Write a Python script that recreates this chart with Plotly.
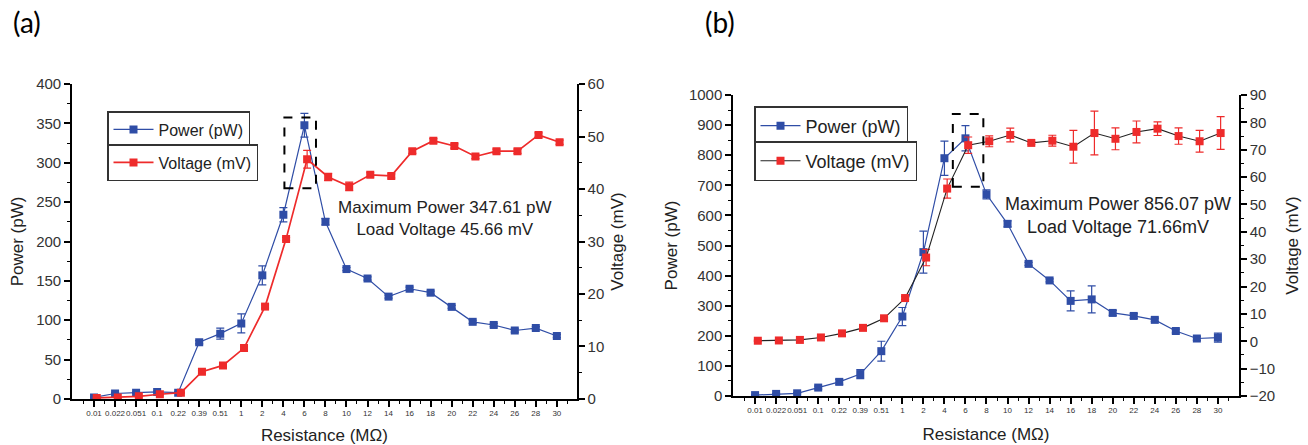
import plotly.graph_objects as go

# ---------------- data ----------------
resistance = ["0.01", "0.022", "0.051", "0.1", "0.22", "0.39", "0.51", "1", "2", "4", "6", "8",
              "10", "12", "14", "16", "18", "20", "22", "24", "26", "28", "30"]

power_a = [2, 7, 8, 9, 8, 72, 83, 96, 157, 234, 347.61, 225,
           165, 153, 130, 140, 135, 117, 98, 94, 87, 90, 80]
power_a_err = [1, 1, 1, 1, 1, 2, 7, 12, 12, 9, 15, 4,
               2, 2, 2, 2, 2, 2, 2, 2, 2, 2, 2]
voltage_a = [0.2, 0.3, 0.5, 0.9, 1.2, 5.2, 6.4, 9.7, 17.6, 30.5, 45.66, 42.3,
             40.5, 42.7, 42.5, 47.2, 49.2, 48.2, 46.2, 47.2, 47.2, 50.3, 48.9]
voltage_a_err = [0.1, 0.1, 0.1, 0.1, 0.1, 0.3, 0.3, 0.3, 0.3, 0.3, 1.7, 0.7,
                 0.8, 0.4, 0.4, 0.4, 0.4, 0.4, 0.4, 0.4, 0.4, 0.4, 0.4]

power_b = [3, 7, 9, 28, 47, 73, 149, 264, 478, 790, 856.07, 670,
           572, 439, 384, 316, 321, 276, 266, 253, 216, 191, 194]
power_b_err = [2, 2, 2, 5, 8, 15, 33, 30, 70, 57, 42, 15,
               10, 5, 5, 33, 45, 8, 8, 6, 6, 6, 15]
voltage_b = [0.2, 0.3, 0.5, 1.4, 2.9, 4.9, 8.4, 15.8, 30.6, 55.8, 71.66, 73.1,
             75.4, 72.5, 73.3, 71.1, 76.1, 74.0, 76.5, 77.7, 75.0, 73.1, 76.1]
voltage_b_err = [0.2, 0.2, 0.2, 0.3, 0.3, 0.3, 0.3, 0.5, 3, 3.5, 3, 2,
                 2.5, 0.5, 2, 6, 8, 4, 4, 2.5, 3, 4, 6]

# ---------------- styling ----------------
BLUE = "#2f4da6"
RED = "#ee2b2b"
FONT = "Arial, Liberation Sans, sans-serif"
TXT = "#222222"
idx = list(range(len(resistance)))
v_off = 0.13  # Origin-like slight horizontal offset of voltage markers

fig = go.Figure()

# panel (a)
fig.add_trace(go.Scatter(
    x=idx, y=power_a, mode="lines+markers", name="Power (pW)",
    line=dict(color=BLUE, width=1.2), marker=dict(symbol="square", size=8, color=BLUE),
    error_y=dict(type="data", array=power_a_err, color=BLUE, thickness=1.2, width=4),
    xaxis="x", yaxis="y", legend="legend", showlegend=True))
fig.add_trace(go.Scatter(
    x=[i + v_off for i in idx], y=voltage_a, mode="lines+markers", name="Voltage (mV)",
    line=dict(color=RED, width=1.7), marker=dict(symbol="square", size=8, color=RED),
    error_y=dict(type="data", array=voltage_a_err, color=RED, thickness=1.2, width=4),
    xaxis="x", yaxis="y2", legend="legend2", showlegend=True))

# panel (b)
fig.add_trace(go.Scatter(
    x=idx, y=power_b, mode="lines+markers", name="Power (pW)",
    line=dict(color=BLUE, width=1.2), marker=dict(symbol="square", size=8, color=BLUE),
    error_y=dict(type="data", array=power_b_err, color=BLUE, thickness=1.2, width=4),
    xaxis="x2", yaxis="y3", legend="legend3", showlegend=True))
fig.add_trace(go.Scatter(
    x=[i + v_off for i in idx], y=voltage_b, mode="lines+markers", name="Voltage (mV)",
    line=dict(color=TXT, width=1.1), marker=dict(symbol="square", size=8, color=RED),
    error_y=dict(type="data", array=voltage_b_err, color=RED, thickness=1.2, width=4),
    xaxis="x2", yaxis="y4", legend="legend4", showlegend=True))

axis_common = dict(showline=True, linecolor="black", linewidth=1.5, ticks="outside",
                   ticklen=6, tickwidth=1.5, tickcolor="black", showgrid=False,
                   zeroline=False, automargin=False)
minor_x = dict(tickvals=[i + 0.5 for i in range(-1, len(resistance))], ticklen=3,
               tickwidth=1.2, tickcolor="black", ticks="outside")

xcommon = dict(axis_common, tickmode="array", tickvals=idx, ticktext=resistance, tickangle=0,
               tickfont=dict(size=8, color="#333333", family=FONT), minor=minor_x,
               title=dict(text="Resistance (MΩ)", font=dict(size=17, color=TXT, family=FONT),
                          standoff=14))
ytitle_font = dict(size=17, color=TXT, family=FONT)
ytick_font = dict(size=15, color="#333333", family=FONT)
ymin = lambda d: dict(dtick=d, ticklen=3, tickwidth=1.2, tickcolor="black", ticks="outside")

fig.update_layout(
    width=1308, height=445, margin=dict(l=0, r=0, t=0, b=0), showlegend=True,
    paper_bgcolor="white", plot_bgcolor="white", font=dict(family=FONT),
    xaxis=dict(xcommon, domain=[0.055, 0.441], range=[-1.05, 22.95], anchor="y"),
    yaxis=dict(axis_common, domain=[0.1034, 0.8112], range=[0, 400], dtick=50,
               minor=ymin(25), tickfont=ytick_font, anchor="x",
               title=dict(text="Power (pW)", font=ytitle_font, standoff=8)),
    yaxis2=dict(axis_common, overlaying="y", side="right", range=[0, 60], dtick=10,
                minor=ymin(5), tickfont=ytick_font, anchor="x",
                title=dict(text="Voltage (mV)", font=ytitle_font, standoff=8)),
    xaxis2=dict(xcommon, domain=[0.5604, 0.9472], range=[-1.05, 23.0], anchor="y3"),
    yaxis3=dict(axis_common, domain=[0.1101, 0.7865], range=[0, 1000], dtick=100,
                minor=ymin(50), tickfont=ytick_font, anchor="x2",
                title=dict(text="Power (pW)", font=ytitle_font, standoff=7)),
    yaxis4=dict(axis_common, overlaying="y3", side="right", range=[-20, 90], dtick=10,
                minor=ymin(5), tickfont=ytick_font, anchor="x2",
                title=dict(text="Voltage (mV)", font=ytitle_font, standoff=12)),
)

leg_common = dict(bgcolor="white", bordercolor="#333333", borderwidth=1.5, visible=True,
                  xanchor="left", yanchor="top", itemwidth=40,
                  font=dict(size=16, color=TXT, family=FONT))
leg_font_b = dict(size=18, color=TXT, family=FONT)
fig.update_layout(
    legend=dict(leg_common, x=107 / 1308, y=1 - 111 / 445),
    legend2=dict(leg_common, x=107 / 1308, y=1 - 144 / 445),
    legend3=dict(leg_common, x=754 / 1308, y=1 - 106 / 445, font=leg_font_b),
    legend4=dict(leg_common, x=754 / 1308, y=1 - 141 / 445, font=leg_font_b),
)

# dashed boxes around the peak
ia = power_a.index(max(power_a))
ib = power_b.index(max(power_b))
fig.add_shape(type="rect", xref="x", yref="y", x0=ia - 0.95, x1=ia + 0.55,
              y0=max(power_a) - 80, y1=max(power_a) + 10,
              line=dict(color="black", width=2, dash="dash"))
fig.add_shape(type="rect", xref="x2", yref="y3", x0=ib - 0.6, x1=ib + 0.85,
              y0=max(power_b) - 161, y1=max(power_b) + 81,
              line=dict(color="black", width=2, dash="dash"))

fig.add_annotation(text=f"Maximum Power {max(power_a):.2f} pW<br>Load Voltage {voltage_a[ia]:.2f} mV",
                   xref="paper", yref="paper", x=445 / 1308, y=1 - 218 / 445,
                   xanchor="center", yanchor="middle",
                   showarrow=False, font=dict(size=17, color=TXT, family=FONT))
fig.add_annotation(text=f"Maximum Power {max(power_b):.2f} pW<br>Load Voltage {voltage_b[ib]:.2f}mV",
                   xref="paper", yref="paper", x=1118 / 1308, y=1 - 215.5 / 445,
                   xanchor="center", yanchor="middle",
                   showarrow=False, font=dict(size=18, color=TXT, family=FONT))

fig.add_annotation(text="(a)", xref="paper", yref="paper", x=27 / 1308, y=1 - 22 / 445,
                   xanchor="center", yanchor="middle",
                   showarrow=False, font=dict(size=28, color="black", family="Lato"))
fig.add_annotation(text="(b)", xref="paper", yref="paper", x=720 / 1308, y=1 - 22 / 445,
                   xanchor="center", yanchor="middle",
                   showarrow=False, font=dict(size=28, color="black", family="Lato"))

fig.write_html("out.html")
